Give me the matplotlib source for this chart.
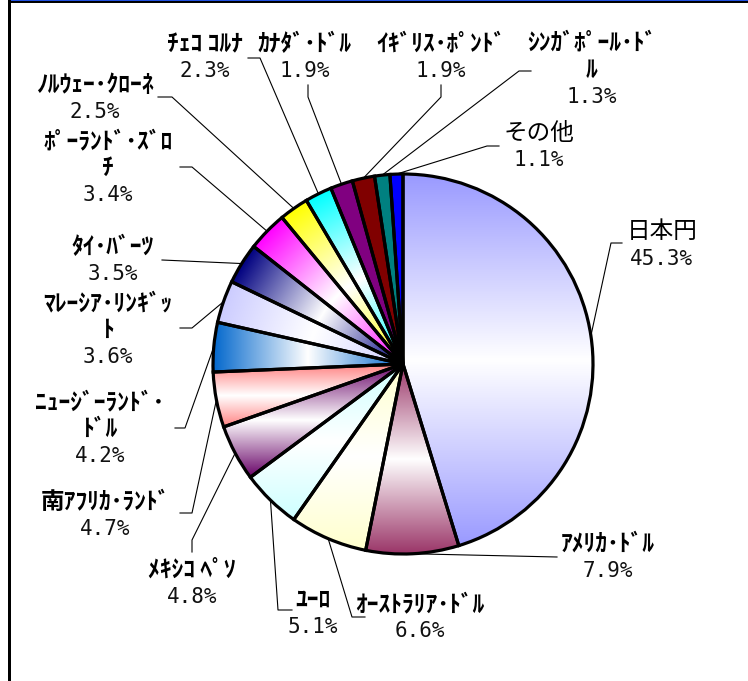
import numpy as np
import matplotlib
matplotlib.use('Agg')
import matplotlib.pyplot as plt
from matplotlib.colors import to_rgb
from matplotlib.lines import Line2D

plt.rcParams['font.family'] = ['Noto Sans CJK JP', 'DejaVu Sans']

# ---- data ----
names = ["日本円", "ｱﾒﾘｶ･ﾄﾞﾙ", "ｵｰｽﾄﾗﾘｱ･ﾄﾞﾙ", "ﾕｰﾛ", "ﾒｷｼｺ ﾍﾟｿ",
         "南ｱﾌﾘｶ･ﾗﾝﾄﾞ", "ﾆｭｰｼﾞｰﾗﾝﾄﾞ･\nﾄﾞﾙ", "ﾏﾚｰｼｱ･ﾘﾝｷﾞｯ\nﾄ", "ﾀｲ･ﾊﾞｰﾂ",
         "ﾎﾟｰﾗﾝﾄﾞ･ｽﾞﾛ\nﾁ", "ﾉﾙｳｪｰ･ｸﾛｰﾈ", "ﾁｪｺ ｺﾙﾅ", "ｶﾅﾀﾞ･ﾄﾞﾙ",
         "ｲｷﾞﾘｽ･ﾎﾟﾝﾄﾞ", "ｼﾝｶﾞﾎﾟｰﾙ･ﾄﾞ\nﾙ", "その他"]
shares = [45.3, 7.9, 6.6, 5.1, 4.8, 4.7, 4.2, 3.6, 3.5, 3.4, 2.5, 2.3, 1.9, 1.9, 1.3, 1.1]
colors = ['#9999FF', '#993366', '#FFFFCC', '#CCFFFF', '#660066', '#FF8080',
          '#0066CC', '#CCCCFF', '#000080', '#FF00FF', '#FFFF00', '#00FFFF',
          '#800080', '#800000', '#008080', '#0000FF']
grad_modes = ['v', 'v', 'v', 'v', 'v', 'v', 'h', 'r', 'r', 'r', 'r', 'r',
              's', 's', 's', 's']

# ---- layout (pixels, y downward) ----
W, H = 748, 681
CX, CY, R = 403, 364, 190
label_pos = [(662, 232), (608, 544), (420, 604), (313, 600), (192, 570),
             (105, 502), (100, 402), (108, 303), (113, 247), (108, 141),
             (95, 85), (205, 44), (305, 44), (441, 44), (592, 43), (539, 133)]
leader_pts = [[(611, 243), (622, 243)], [(557, 557)], [(352, 617), (365, 617)],
              [(278, 610), (292, 610)], [(192, 540), (192, 552)],
              [(192, 513), (180, 513)], [(185, 428), (175, 428)],
              [(192, 328), (180, 328)], [(162, 260)], [(192, 167), (180, 167)],
              [(172, 97), (158, 97)], [(260, 58), (248, 58)],
              [(308, 97), (308, 85)], [(441, 97), (441, 85)],
              [(519, 71), (531, 71)], [(487, 146), (499, 146)]]
PITCH = 27

fig = plt.figure(figsize=(W / 100, H / 100), dpi=100)
fig.patch.set_facecolor('white')
ax = fig.add_axes([0, 0, 1, 1])

wedges, _ = ax.pie(shares, startangle=90, counterclock=False,
                   center=(CX, H - CY), radius=R,
                   wedgeprops=dict(facecolor='none', edgecolor='black',
                                   linewidth=2.3, zorder=2))
ax.set_xlim(0, W)
ax.set_ylim(0, H)
ax.set_aspect('auto')
ax.axis('off')

white = np.array([1.0, 1.0, 1.0])
for w, col, mode in zip(wedges, colors, grad_modes):
    t1, t2 = np.radians(w.theta1), np.radians(w.theta2)
    cx, cy = w.center
    rr = w.r
    angs = np.linspace(t1, t2, 200)
    px = np.concatenate([[cx], cx + rr * np.cos(angs)])
    py = np.concatenate([[cy], cy + rr * np.sin(angs)])
    x0, x1 = px.min() - 1, px.max() + 1
    y0, y1 = py.min() - 1, py.max() + 1
    nx = max(int(x1 - x0) + 1, 2)
    ny = max(int(y1 - y0) + 1, 2)
    X, Y = np.meshgrid(np.linspace(x0, x1, nx), np.linspace(y0, y1, ny))
    c = np.array(to_rgb(col))
    if mode == 'v':
        t = (Y - y0) / (y1 - y0)
        wt = np.abs(2 * t - 1)
    elif mode == 'h':
        t = (X - x0) / (x1 - x0)
        wt = np.abs(2 * t - 1)
    elif mode == 'r':
        tm = 0.5 * (t1 + t2)
        t = ((X - cx) * np.cos(tm) + (Y - cy) * np.sin(tm)) / rr
        t = np.clip(t, 0, 1)
        wt = np.abs(2 * t - 1)
    else:
        wt = np.ones_like(X)
    img = white[None, None, :] * (1 - wt[..., None]) + c[None, None, :] * wt[..., None]
    im = ax.imshow(img, extent=(x0, x1, y0, y1), origin='lower',
                   interpolation='bilinear', zorder=1, aspect='auto')
    im.set_clip_path(w)

ax.set_xlim(0, W)
ax.set_ylim(0, H)

# leaders and labels
for w, name, val, (lx, ly), pts in zip(wedges, names, shares, label_pos, leader_pts):
    tm = np.radians(0.5 * (w.theta1 + w.theta2))
    sx = w.center[0] + w.r * np.cos(tm)
    sy = w.center[1] + w.r * np.sin(tm)
    xs = [sx] + [p[0] for p in pts]
    ys = [sy] + [H - p[1] for p in pts]
    ax.add_line(Line2D(xs, ys, color='black', linewidth=0.8, zorder=3))
    lines = name.split('\n')
    big = name in ("日本円", "その他")
    for i, ln in enumerate(lines):
        ax.text(lx, H - (ly + i * PITCH), ln, ha='center', va='center',
                fontsize=17, fontweight='normal' if big else 'bold',
                color='black')
    ax.text(lx, H - (ly + len(lines) * PITCH), f"{val:.1f}%", ha='center',
            va='center', fontsize=15, color='#111111',
            family=['DejaVu Sans Mono'])

# frame
fig.add_artist(plt.Rectangle((8 / W, 0), 3 / W, 1, transform=fig.transFigure,
                             facecolor='black', edgecolor='none'))
fig.add_artist(plt.Rectangle((11 / W, 1 - 1.4 / H), 1 - 11 / W, 1.4 / H,
                             transform=fig.transFigure, facecolor='#2050E0',
                             edgecolor='none'))
fig.add_artist(plt.Rectangle((11 / W, 1 - 3.4 / H), 1 - 11 / W, 2.0 / H,
                             transform=fig.transFigure, facecolor='black',
                             edgecolor='none'))

fig.savefig('out.png', dpi=100, facecolor='white')
